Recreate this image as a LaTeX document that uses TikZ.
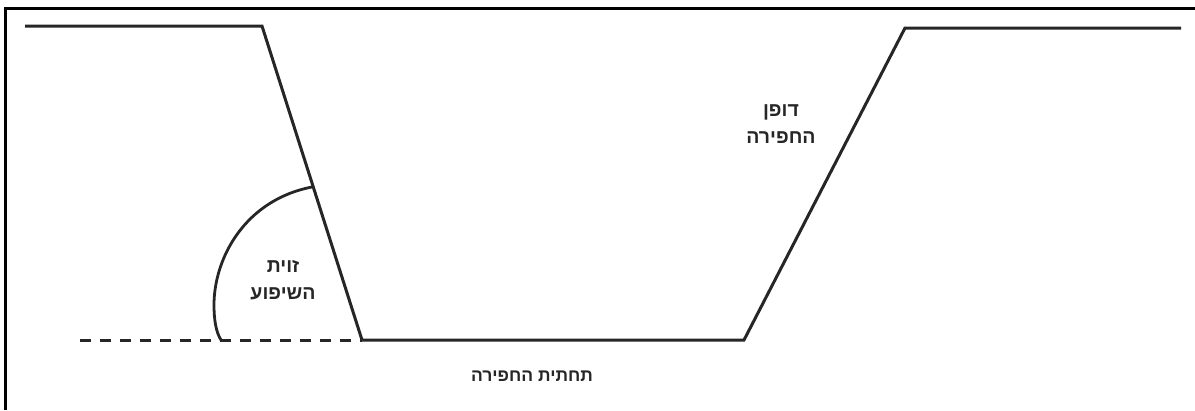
\documentclass[tikz,border=0pt]{standalone}
\usepackage{fontspec}
\setmainfont{Liberation Sans}
\newfontfamily\hebfont[Script=Hebrew]{Liberation Sans}
\TeXXeTstate=1
\tikzset{
  ground/.style={line width=3pt,black!85,line join=miter},
  frameline/.style={line width=3pt,black},
  hint/.style={line width=3pt,black!85,dash pattern=on 11pt off 9pt},
  arcline/.style={line width=2.8pt,black!85},
  lab/.style={font=\hebfont\bfseries\fontsize{17.5}{26}\selectfont,align=center,text=black!85,inner sep=0pt},
  twolab/.style={lab,font=\hebfont\bfseries\fontsize{19.5}{27}\selectfont}
}
\begin{document}
\begin{tikzpicture}[x=1pt,y=-1pt]
\useasboundingbox (0,0) rectangle (1195,410);
\fill[white] (0,0) rectangle (1195,410);
\coordinate (fbl) at (5.5,410);
\coordinate (ftl) at (5.5,8);
\coordinate (ftr) at (1195,8);
\draw[frameline] (fbl) -- (ftl) -- (ftr);
\coordinate (a) at (25,26);
\coordinate (b) at (262,26);
\coordinate (c) at (362,340);
\coordinate (d) at (744,340);
\coordinate (e) at (905,28);
\coordinate (f) at (1181,28);
\coordinate (g) at (80,340);
\coordinate (h) at (312,187);
\coordinate (i) at (221,340);
\draw[ground] (a) -- (b) -- (c) -- (d) -- (e) -- (f);
\draw[hint] (g) -- (c);
\draw[arcline] (h) .. controls (245,200) and (214,258) .. (214,305) .. controls (214,320) and (216,332) .. (i);
\node[twolab] (angle) at (283,280) {\beginR זוית\endR\\\beginR השיפוע\endR};
\node[twolab] (wall) at (781,124) {\beginR דופן\endR\\\beginR החפירה\endR};
\node[lab] (floor) at (532,376) {\beginR תחתית החפירה\endR};
\end{tikzpicture}
\end{document}
